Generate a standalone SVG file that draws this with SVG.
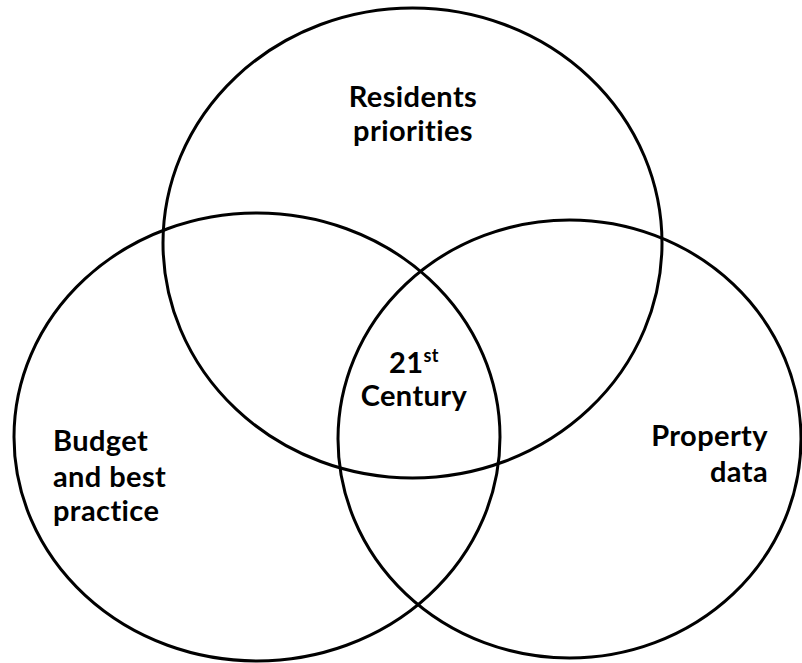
<svg xmlns="http://www.w3.org/2000/svg" width="802" height="663" viewBox="0 0 802 663">
<style>
.c{fill:none;stroke:#000;stroke-width:3}
.t{font-family:Lato,"Open Sans","Liberation Sans",sans-serif;font-weight:bold;font-size:29px;letter-spacing:0.4px;fill:#000}
.m{text-anchor:middle}
.e{text-anchor:end}
</style>
<rect width="802" height="663" fill="#fff"/>
<g id="residents">
<ellipse class="c" cx="412.5" cy="243" rx="249.5" ry="235"/>
<text class="t m" x="413" y="107">Residents</text>
<text class="t m" x="413" y="141">priorities</text>
</g>
<g id="budget">
<ellipse class="c" cx="257" cy="437" rx="243" ry="224"/>
<text class="t" x="53" y="451">Budget</text>
<text class="t" x="53" y="487">and best</text>
<text class="t" x="53" y="521">practice</text>
</g>
<g id="property">
<ellipse class="c" cx="569.5" cy="439" rx="231.5" ry="219"/>
<text class="t e" x="768" y="446">Property</text>
<text class="t e" x="768" y="482">data</text>
</g>
<g id="century">
<text class="t m" x="414" y="373">21<tspan font-size="18" dy="-11">st</tspan></text>
<text class="t m" x="414" y="406">Century</text>
</g>
<g id="connectors"></g>
</svg>
